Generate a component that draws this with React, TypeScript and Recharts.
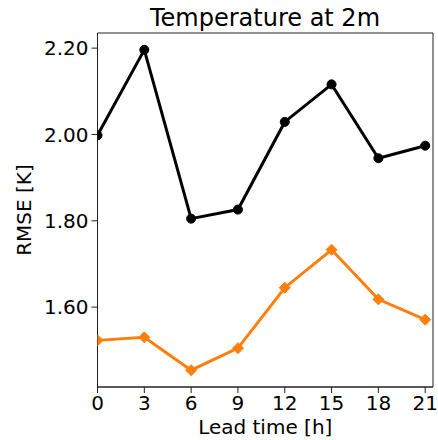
import { Label, Line, LineChart, ReferenceArea, XAxis, YAxis } from 'recharts';

const leadTimes = [0, 3, 6, 9, 12, 15, 18, 21];
const blackRmse = [1.998, 2.196, 1.805, 1.826, 2.029, 2.116, 1.945, 1.974];
const orangeRmse = [1.523, 1.53, 1.454, 1.505, 1.645, 1.733, 1.618, 1.571];
const xTicks = [0, 3, 6, 9, 12, 15, 18, 21];
const yTicks = [1.6, 1.8, 2.0, 2.2];

const X_DOMAIN: [number, number] = [0, 21.5];
const Y_DOMAIN: [number, number] = [1.415, 2.235];

const FONT = '"DejaVu Sans", sans-serif';
const ORANGE = '#ff7f0e';

const data = leadTimes.map((lead, i) => ({
  lead,
  black: blackRmse[i],
  orange: orangeRmse[i],
}));

function DiamondDot(props: { cx?: number; cy?: number }) {
  const { cx, cy } = props;
  if (cx == null || cy == null) {
    return null;
  }
  const r = 5.5;
  return (
    <polygon
      points={`${cx},${cy - r} ${cx + r},${cy} ${cx},${cy + r} ${cx - r},${cy}`}
      fill={ORANGE}
      stroke={ORANGE}
      strokeWidth={1}
    />
  );
}

const tickStyle = { fill: '#000', fontSize: 20, fontFamily: FONT };

export default function App() {
  return (
    <div style={{ position: 'absolute', left: 0, top: 0 }}>
      <LineChart
        width={438}
        height={440}
        data={data}
        margin={{ top: 33, right: 5, bottom: 0, left: 0 }}
      >
        <text
          x={265}
          y={26}
          textAnchor='middle'
          fontSize={24}
          fontFamily={FONT}
          fill='#000'
        >
          Temperature at 2m
        </text>

        <XAxis
          dataKey='lead'
          type='number'
          domain={X_DOMAIN}
          ticks={xTicks}
          allowDataOverflow
          height={53}
          tick={tickStyle}
          tickSize={6}
          tickMargin={3}
          axisLine={{ stroke: '#222', strokeWidth: 1 }}
          tickLine={{ stroke: '#222', strokeWidth: 1 }}
        >
          <Label
            value='Lead time [h]'
            position='insideBottom'
            offset={6}
            style={{ fontSize: 20, fontFamily: FONT, fill: '#000' }}
          />
        </XAxis>

        <YAxis
          type='number'
          domain={Y_DOMAIN}
          ticks={yTicks}
          allowDataOverflow
          width={97.5}
          tick={tickStyle}
          tickSize={6}
          tickMargin={3}
          tickFormatter={(value) => Number(value).toFixed(2)}
          axisLine={{ stroke: '#222', strokeWidth: 1 }}
          tickLine={{ stroke: '#222', strokeWidth: 1 }}
        >
          <Label
            content={({ viewBox }) => {
              const box = viewBox as { x: number; y: number; height: number };
              const cx = box.x + 24;
              const cy = box.y + box.height / 2;
              return (
                <text
                  x={cx}
                  y={cy}
                  transform={`rotate(-90, ${cx}, ${cy})`}
                  textAnchor='middle'
                  dominantBaseline='central'
                  fontSize={20}
                  fontFamily={FONT}
                  fill='#000'
                >
                  RMSE [K]
                </text>
              );
            }}
          />
        </YAxis>

        <ReferenceArea
          x1={X_DOMAIN[0]}
          x2={X_DOMAIN[1]}
          y1={Y_DOMAIN[0]}
          y2={Y_DOMAIN[1]}
          fill='none'
          stroke='#222'
          strokeWidth={1}
          ifOverflow='visible'
        />

        <Line
          dataKey='black'
          stroke='#000'
          strokeWidth={3}
          dot={{ r: 4.5, fill: '#000', stroke: '#000', strokeWidth: 1 }}
          activeDot={false}
          isAnimationActive={false}
        />
        <Line
          dataKey='orange'
          stroke={ORANGE}
          strokeWidth={3}
          dot={<DiamondDot />}
          activeDot={false}
          isAnimationActive={false}
        />
      </LineChart>
    </div>
  );
}
